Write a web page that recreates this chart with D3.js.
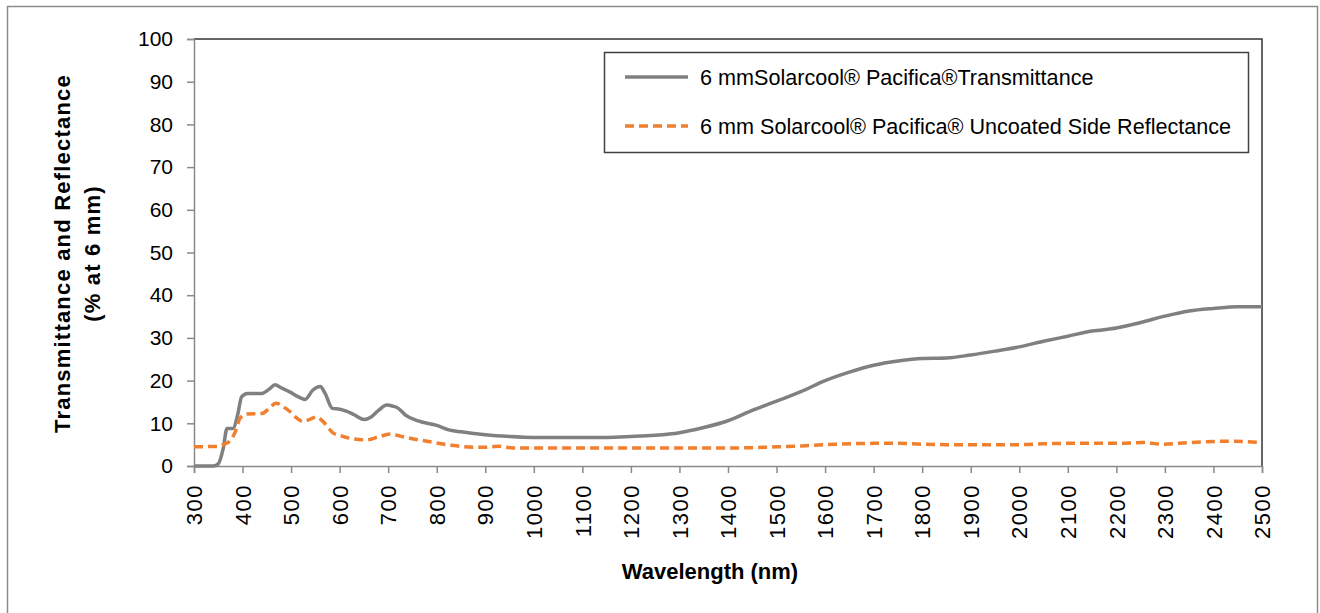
<!DOCTYPE html>
<html>
<head>
<meta charset="utf-8">
<script src="https://cdn.jsdelivr.net/npm/d3@7"></script>
<style>
  html, body { margin: 0; padding: 0; background: #fff; }
  svg text { font-family: "Liberation Sans", Arial, sans-serif; fill: #000; }
</style>
</head>
<body>
<svg id="chart" width="1320" height="613"></svg>
<script>
// ---- data ----
const xTicks = [300,400,500,600,700,800,900,1000,1100,1200,1300,1400,1500,1600,1700,1800,1900,2000,2100,2200,2300,2400,2500];
const yTicks = [0,10,20,30,40,50,60,70,80,90,100];

const transWavelength = [300,340,350,360,368,380,390,398,410,440,455,467,480,498,515,529,545,560,570,585,600,615,630,650,665,680,697,710,721,735,760,800,827,850,900,950,1000,1050,1100,1150,1200,1250,1300,1350,1400,1450,1500,1550,1600,1650,1700,1750,1800,1850,1900,1950,2000,2050,2100,2150,2200,2250,2300,2350,2400,2450,2500];
const transValues = [0,0,0.5,4,8.8,8.8,12,16.2,17,17,18,19,18.3,17.3,16.2,15.6,17.8,18.6,17,13.5,13.3,12.8,12,10.9,11.5,13,14.3,14,13.5,12,10.6,9.5,8.4,8,7.3,6.9,6.7,6.7,6.7,6.7,6.9,7.2,7.8,9,10.6,13,15.2,17.4,20,22,23.6,24.6,25.2,25.3,26,26.9,27.9,29.2,30.4,31.6,32.3,33.6,35.1,36.3,36.9,37.3,37.3];

const reflWavelength = [300,350,360,375,385,395,410,440,455,469,485,498,512,525,540,553,565,587,605,621,656,680,704,725,745,780,827,875,900,927,957,1000,1100,1200,1300,1400,1450,1500,1550,1600,1650,1700,1750,1800,1850,1900,1950,2000,2050,2100,2150,2200,2255,2296,2350,2440,2500];
const reflValues = [4.5,4.6,5,6,8,11.2,12.2,12.3,13.5,14.7,13.8,12.7,11.2,10.4,11,11.5,10.5,7.7,7,6.5,6.1,6.8,7.5,7,6.5,5.8,4.9,4.4,4.4,4.6,4.2,4.2,4.2,4.2,4.2,4.2,4.3,4.5,4.7,5.0,5.2,5.3,5.3,5.1,5.0,5.0,5.0,5.0,5.2,5.3,5.3,5.3,5.5,5.1,5.5,5.8,5.5];

const seriesNames = ["6 mmSolarcool\u00AE Pacifica\u00AETransmittance", "6 mm Solarcool\u00AE Pacifica\u00AE Uncoated Side Reflectance"];
const xTitle = "Wavelength (nm)";
const yTitleLines = ["Transmittance and Reflectance", "(% at 6 mm)"];

// ---- layout ----
const svg = d3.select("#chart");
const L = 194, R = 1262, T = 39, B = 466;
const x = d3.scaleLinear().domain([300, 2500]).range([L, R]);
const y = d3.scaleLinear().domain([0, 100]).range([B, T]);

// outer border
svg.append("rect").attr("x", 7.5).attr("y", 6.5).attr("width", 1310).attr("height", 620)
  .attr("fill", "none").attr("stroke", "#8c8c8c").attr("stroke-width", 1.5);

// plot frame top & right
svg.append("path").attr("d", `M${L},${T}H${R}V${B}`).attr("fill", "none")
  .attr("stroke", "#333").attr("stroke-width", 1.5);

// y axis
const yAxis = svg.append("g").attr("transform", `translate(${L},0)`)
  .call(d3.axisLeft(y).tickValues(yTicks).tickSize(7).tickPadding(14).tickFormat(d3.format("d")));
yAxis.select(".domain").attr("stroke", "#8a8a8a").attr("stroke-width", 1.5);
yAxis.selectAll(".tick line").attr("stroke", "#8a8a8a").attr("stroke-width", 1.5);
yAxis.selectAll("text").style("font-size", "21px").attr("fill", "#000");

// x axis
const xAxis = svg.append("g").attr("transform", `translate(0,${B})`)
  .call(d3.axisBottom(x).tickValues(xTicks).tickSize(7).tickFormat(d3.format("d")));
xAxis.select(".domain").attr("stroke", "#8a8a8a").attr("stroke-width", 1.5);
xAxis.selectAll(".tick line").attr("stroke", "#8a8a8a").attr("stroke-width", 1.5);
xAxis.selectAll("text")
  .style("font-size", "22px").style("letter-spacing", "1.5px").attr("fill", "#000")
  .attr("text-anchor", "end")
  .attr("x", 0).attr("y", 0).attr("dy", "0.35em")
  .attr("transform", "translate(0,18) rotate(-90)");

// series
const line = d3.line().x(d => x(d[0])).y(d => y(d[1])).curve(d3.curveMonotoneX);
const transData = transWavelength.map((w, i) => [w, transValues[i]]);
const reflData = reflWavelength.map((w, i) => [w, reflValues[i]]);

svg.append("path").datum(transData).attr("d", line).attr("fill", "none")
  .attr("stroke", "#808080").attr("stroke-width", 3.5).attr("stroke-linejoin", "round");
svg.append("path").datum(reflData).attr("d", line).attr("fill", "none")
  .attr("stroke", "#F07F2E").attr("stroke-width", 3.5).attr("stroke-dasharray", "9,5");

// legend
const lg = svg.append("g");
lg.append("rect").attr("x", 604.5).attr("y", 52.5).attr("width", 644).attr("height", 100)
  .attr("fill", "#fff").attr("stroke", "#404040").attr("stroke-width", 1.5);
const legendStyles = [
  {stroke: "#808080", dash: null},
  {stroke: "#F07F2E", dash: "9,5"}
];
seriesNames.forEach((name, i) => {
  const yy = 77 + i * 49;
  lg.append("line").attr("x1", 625).attr("x2", 688).attr("y1", yy).attr("y2", yy)
    .attr("stroke", legendStyles[i].stroke).attr("stroke-width", 3.5)
    .attr("stroke-dasharray", legendStyles[i].dash);
  lg.append("text").attr("x", 700).attr("y", yy).attr("dy", "0.35em")
    .style("font-size", "21.6px").text(name);
});

// axis titles
svg.append("text").attr("x", 710).attr("y", 579).attr("text-anchor", "middle")
  .style("font-size", "22px").style("font-weight", "bold").text(xTitle);
yTitleLines.forEach((t, i) => {
  svg.append("text")
    .attr("transform", `translate(${62 + i * 30},${(T + B) / 2 + 1}) rotate(-90)`)
    .attr("text-anchor", "middle").attr("dy", "0.35em")
    .style("font-size", "22px").style("font-weight", "bold")
    .style("letter-spacing", "1.2px").text(t);
});
</script>
</body>
</html>
